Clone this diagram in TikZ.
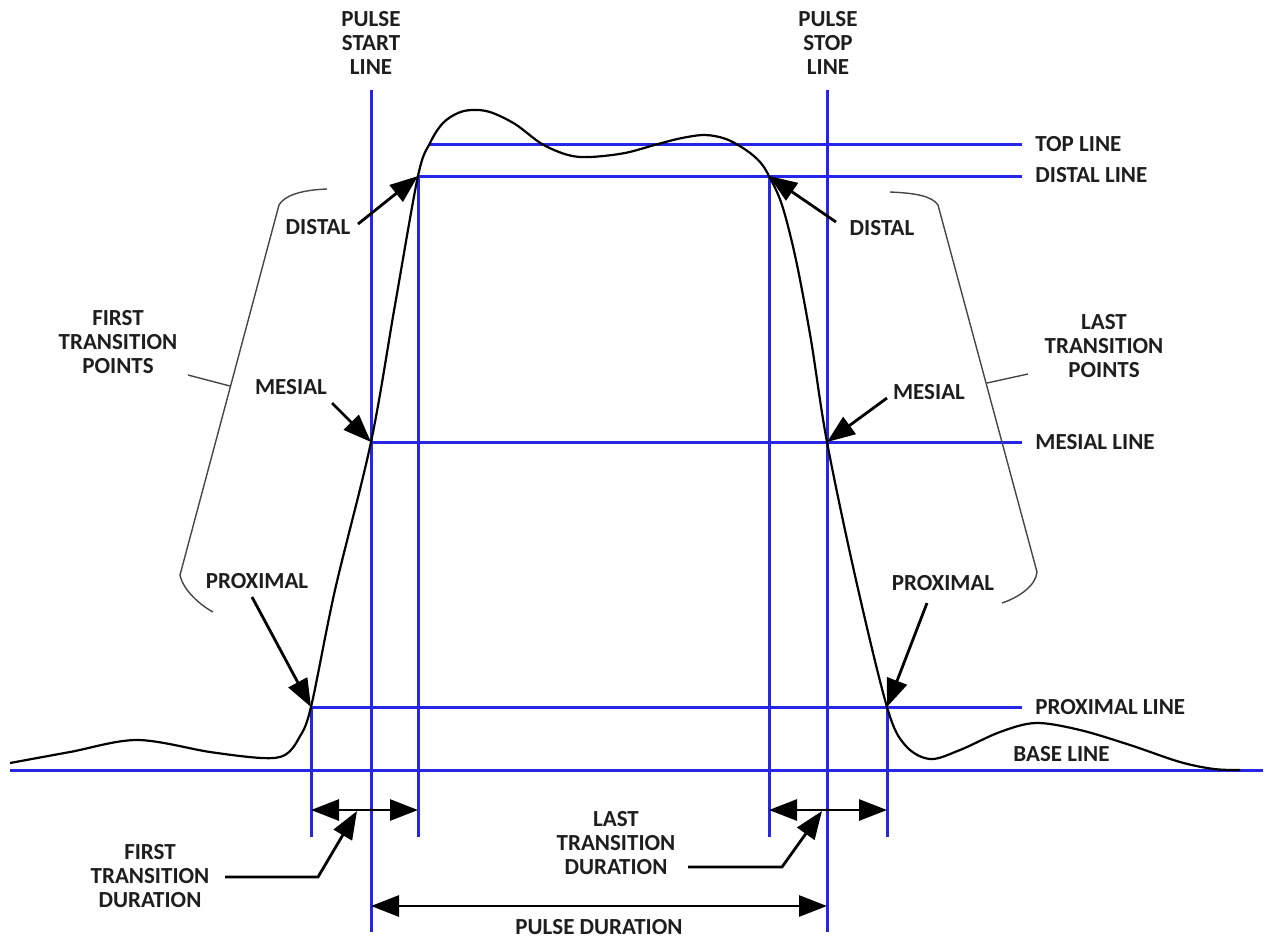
\documentclass[tikz,border=0pt]{standalone}
\usepackage{fontspec}
\setmainfont{Carlito}
\usetikzlibrary{arrows.meta}
\definecolor{gridblue}{RGB}{38,38,232}
\definecolor{brk}{RGB}{70,70,70}
\definecolor{txt}{RGB}{30,30,30}
\begin{document}
\begin{tikzpicture}[x=0.5pt,y=-0.5pt,
  lbl/.style={font=\fontsize{11.5}{11.8}\selectfont\bfseries, inner sep=0pt, align=center, text=txt},
  bl/.style={draw=gridblue, line width=1.5pt},
  ptr/.style={draw=black, line width=1.4pt, -{Triangle[length=14pt,width=10.5pt]}},
  dbl/.style={draw=black, line width=1.4pt, {Triangle[length=14pt,width=10.5pt]}-{Triangle[length=14pt,width=10.5pt]}},
  lead/.style={draw=black, line width=1.4pt, -{Triangle[length=14pt,width=10.5pt]}},
  brace/.style={draw=brk, line width=0.7pt},
  wave/.style={draw=black, line width=1.1pt, line join=round}]
\useasboundingbox (0,0) rectangle (1265,939);

% key points
\coordinate (proxL) at (311,707);
\coordinate (mesL) at (371,442);
\coordinate (distL) at (418,176);
\coordinate (distR) at (769,176);
\coordinate (mesR) at (827,442);
\coordinate (proxR) at (887,707);

% blue reference lines
\draw[bl] (371,90) -- (371,932);
\draw[bl] (827,90) -- (827,932);
\draw[bl] (distL) -- (418,837);
\draw[bl] (distR) -- (769,837);
\draw[bl] (proxL) -- (311,837);
\draw[bl] (proxR) -- (887,837);
\draw[bl] (430,144) -- (1022,144);
\draw[bl] (distL) -- (1022,176);
\draw[bl] (mesL) -- (1022,442);
\draw[bl] (proxL) -- (1022,707);
\draw[bl] (10,770) -- (1263,770);

% pulse waveform
\draw[wave] plot[smooth, tension=0.55] coordinates {
 (10,763) (70,752) (137,740) (210,752) (262,758) (285,755) (299,738) (311,707)
 (335,590) (371,442) (395,305) (418,176) (430,143) (443,123) (458,113) (472,110)
 (490,112) (515,124) (542,144) (568,155) (590,157) (625,153) (658,144) (682,138)
 (705,135) (726,139) (746,150) (760,162) (769,176) (782,205) (796,260) (811,340)
 (827,442) (856,580) (887,707) (905,745)
 (930,759) (960,750) (1000,732) (1036,723) (1080,730) (1130,745) (1180,762)
 (1214,769) (1240,770)};

% brackets
\draw[brace] (327,189) .. controls (300,190) and (284,196) .. (279,205) -- (180,575)
  .. controls (183,590) and (200,605) .. (213,612);
\draw[brace] (188,375) -- (230,386);
\draw[brace] (890,192) .. controls (915,193) and (932,196) .. (938,205) -- (1037,572)
  .. controls (1036,585) and (1020,597) .. (1002,603);
\draw[brace] (987,383) -- (1028,374);

% labels
\node[lbl] (pstart) at (371,43) {PULSE\\START\\LINE};
\node[lbl] (pstop) at (828,43) {PULSE\\STOP\\LINE};
\node[lbl,anchor=west] (tl) at (1035,144) {TOP LINE};
\node[lbl,anchor=west] (dl) at (1035,175) {DISTAL LINE};
\node[lbl,anchor=west] (ml) at (1035,442) {MESIAL LINE};
\node[lbl,anchor=west] (pl) at (1035,707) {PROXIMAL LINE};
\node[lbl,anchor=west] (bsl) at (1013,754) {BASE LINE};
\node[lbl] (dL) at (318,227) {DISTAL};
\node[lbl] (mL) at (291,387) {MESIAL};
\node[lbl] (pL) at (257,581) {PROXIMAL};
\node[lbl] (ftp) at (118,342) {FIRST\\TRANSITION\\POINTS};
\node[lbl] (ftd) at (150,876) {FIRST\\TRANSITION\\DURATION};
\node[lbl] (dR) at (882,228) {DISTAL};
\node[lbl] (mR) at (929,392) {MESIAL};
\node[lbl] (pR) at (943,583) {PROXIMAL};
\node[lbl] (ltp) at (1104,346) {LAST\\TRANSITION\\POINTS};
\node[lbl] (ltd) at (616,843) {LAST\\TRANSITION\\DURATION};
\node[lbl] (pd) at (599,927) {PULSE DURATION};

% pointer arrows
\coordinate (dLs) at (358,224);
\coordinate (mLs) at (332,403);
\coordinate (pLs) at (252,597);
\coordinate (dRs) at (836,222);
\coordinate (mRs) at (887,398);
\coordinate (pRs) at (927,603);
\draw[ptr] (dLs) -- (distL);
\draw[ptr] (mLs) -- (mesL);
\draw[ptr] (pLs) -- (proxL);
\draw[ptr] (dRs) -- (distR);
\draw[ptr] (mRs) -- (mesR);
\draw[ptr] (pRs) -- (proxR);

% duration arrows
\coordinate (a1) at (311,810); \coordinate (a2) at (418,810);
\coordinate (b1) at (769,810); \coordinate (b2) at (887,810);
\coordinate (c1) at (371,906); \coordinate (c2) at (827,906);
\draw[dbl] (a1) -- (a2);
\draw[dbl] (b1) -- (b2);
\draw[dbl] (c1) -- (c2);

% leaders
\coordinate (f1) at (225,877); \coordinate (f2) at (318,877); \coordinate (f3) at (357,811);
\coordinate (l1) at (688,867); \coordinate (l2) at (782,867); \coordinate (l3) at (822,811);
\draw[lead] (f1) -- (f2) -- (f3);
\draw[lead] (l1) -- (l2) -- (l3);
\end{tikzpicture}
\end{document}
